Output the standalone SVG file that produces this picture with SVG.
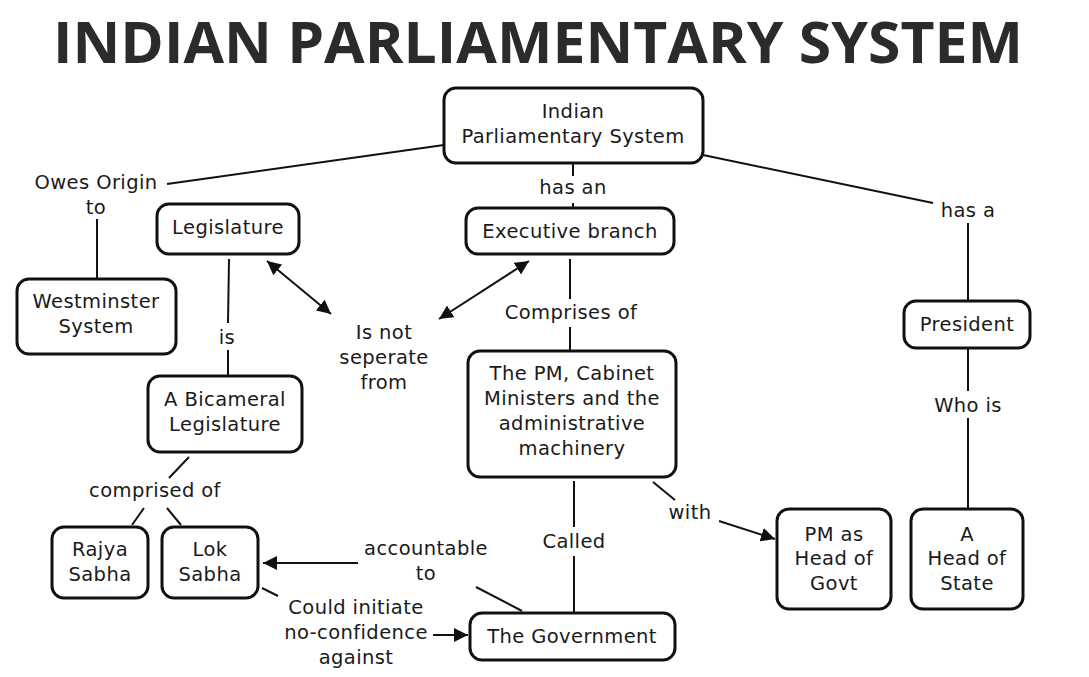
<svg xmlns="http://www.w3.org/2000/svg" width="1089" height="677" viewBox="0 0 1089 677">
<style>
.title{font-family:"Open Sans","Liberation Sans",sans-serif;font-weight:700;font-size:58px;fill:#2b2b2b}
.t{font-family:"DejaVu Sans","Liberation Sans",sans-serif;font-size:19.5px;letter-spacing:0.4px;fill:#1a1a1a;text-anchor:middle}
.box{fill:#fff;stroke:#111;stroke-width:3}
.ln{stroke:#111;stroke-width:2;fill:none}
</style>
<defs>
<marker id="ah" viewBox="0 0 10 10" refX="10" refY="5" markerWidth="14" markerHeight="14" markerUnits="userSpaceOnUse" orient="auto-start-reverse">
<path d="M0,0 L10,5 L0,10 z" fill="#111"/>
</marker>
</defs>
<rect width="1089" height="677" fill="#fff"/>
<text class="title" x="53" y="63" textLength="970" lengthAdjust="spacingAndGlyphs">INDIAN PARLIAMENTARY SYSTEM</text>

<g id="connectors">
<line class="ln" x1="444" y1="145" x2="167" y2="184"/>
<line class="ln" x1="97" y1="219" x2="97" y2="279"/>
<line class="ln" x1="573" y1="164" x2="573" y2="176"/>
<line class="ln" x1="573" y1="203" x2="573" y2="208"/>
<line class="ln" x1="703" y1="155" x2="933" y2="203"/>
<line class="ln" x1="968" y1="223" x2="968" y2="301"/>
<line class="ln" x1="968" y1="348" x2="968" y2="391"/>
<line class="ln" x1="968" y1="418" x2="968" y2="509"/>
<line class="ln" x1="229" y1="259" x2="228" y2="323"/>
<line class="ln" x1="228" y1="350" x2="228" y2="376"/>
<line class="ln" x1="267" y1="261" x2="331" y2="314" marker-start="url(#ah)" marker-end="url(#ah)"/>
<line class="ln" x1="439" y1="319" x2="529" y2="261" marker-start="url(#ah)" marker-end="url(#ah)"/>
<line class="ln" x1="570" y1="259" x2="570" y2="299"/>
<line class="ln" x1="570" y1="327" x2="570" y2="351"/>
<line class="ln" x1="189" y1="457" x2="169" y2="478"/>
<line class="ln" x1="144" y1="508" x2="132" y2="525"/>
<line class="ln" x1="167" y1="508" x2="181" y2="525"/>
<line class="ln" x1="358" y1="563" x2="263" y2="563" marker-end="url(#ah)"/>
<line class="ln" x1="522" y1="611" x2="476" y2="587"/>
<line class="ln" x1="262" y1="588" x2="278" y2="596"/>
<line class="ln" x1="433" y1="635" x2="468" y2="635" marker-end="url(#ah)"/>
<line class="ln" x1="574" y1="481" x2="574" y2="527"/>
<line class="ln" x1="574" y1="556" x2="574" y2="613"/>
<line class="ln" x1="653" y1="482" x2="675" y2="500"/>
<line class="ln" x1="719" y1="521" x2="775" y2="539" marker-end="url(#ah)"/>
</g>

<g id="labels">
<text class="t" x="96" y="189">Owes Origin</text>
<text class="t" x="96" y="214">to</text>
<text class="t" x="573" y="194">has an</text>
<text class="t" x="968" y="217">has a</text>
<text class="t" x="968" y="412">Who is</text>
<text class="t" x="227" y="344">is</text>
<text class="t" x="384" y="339">Is not</text>
<text class="t" x="384" y="364">seperate</text>
<text class="t" x="384" y="389">from</text>
<text class="t" x="571" y="319">Comprises of</text>
<text class="t" x="155" y="497">comprised of</text>
<text class="t" x="426" y="555">accountable</text>
<text class="t" x="426" y="580">to</text>
<text class="t" x="356" y="614">Could initiate</text>
<text class="t" x="356" y="639">no-confidence</text>
<text class="t" x="356" y="664">against</text>
<text class="t" x="574" y="548">Called</text>
<text class="t" x="690" y="519">with</text>
</g>

<g id="n-ips"><rect class="box" x="444" y="88" width="259" height="75" rx="12"/>
<text class="t" x="573" y="118">Indian</text><text class="t" x="573" y="143">Parliamentary System</text></g>
<g id="n-legislature"><rect class="box" x="157" y="204" width="142" height="50" rx="12"/>
<text class="t" x="228" y="234">Legislature</text></g>
<g id="n-westminster"><rect class="box" x="17" y="279" width="159" height="75" rx="12"/>
<text class="t" x="96" y="308">Westminster</text><text class="t" x="96" y="333">System</text></g>
<g id="n-executive"><rect class="box" x="466" y="208" width="208" height="46" rx="12"/>
<text class="t" x="570" y="238">Executive branch</text></g>
<g id="n-president"><rect class="box" x="904" y="301" width="126" height="47" rx="12"/>
<text class="t" x="967" y="331">President</text></g>
<g id="n-bicameral"><rect class="box" x="148" y="376" width="154" height="76" rx="12"/>
<text class="t" x="225" y="406">A Bicameral</text><text class="t" x="225" y="431">Legislature</text></g>
<g id="n-rajya"><rect class="box" x="52" y="527" width="96" height="71" rx="12"/>
<text class="t" x="100" y="556">Rajya</text><text class="t" x="100" y="581">Sabha</text></g>
<g id="n-lok"><rect class="box" x="162" y="527" width="96" height="71" rx="12"/>
<text class="t" x="210" y="556">Lok</text><text class="t" x="210" y="581">Sabha</text></g>
<g id="n-pm"><rect class="box" x="468" y="351" width="208" height="126" rx="12"/>
<text class="t" x="572" y="380">The PM, Cabinet</text><text class="t" x="572" y="405">Ministers and the</text><text class="t" x="572" y="430">administrative</text><text class="t" x="572" y="455">machinery</text></g>
<g id="n-government"><rect class="box" x="470" y="613" width="205" height="47" rx="12"/>
<text class="t" x="572" y="643">The Government</text></g>
<g id="n-pmhead"><rect class="box" x="777" y="509" width="114" height="100" rx="12"/>
<text class="t" x="834" y="541">PM as</text><text class="t" x="834" y="565">Head of</text><text class="t" x="834" y="590">Govt</text></g>
<g id="n-headstate"><rect class="box" x="911" y="509" width="112" height="100" rx="12"/>
<text class="t" x="967" y="541">A</text><text class="t" x="967" y="565">Head of</text><text class="t" x="967" y="590">State</text></g>
</svg>
